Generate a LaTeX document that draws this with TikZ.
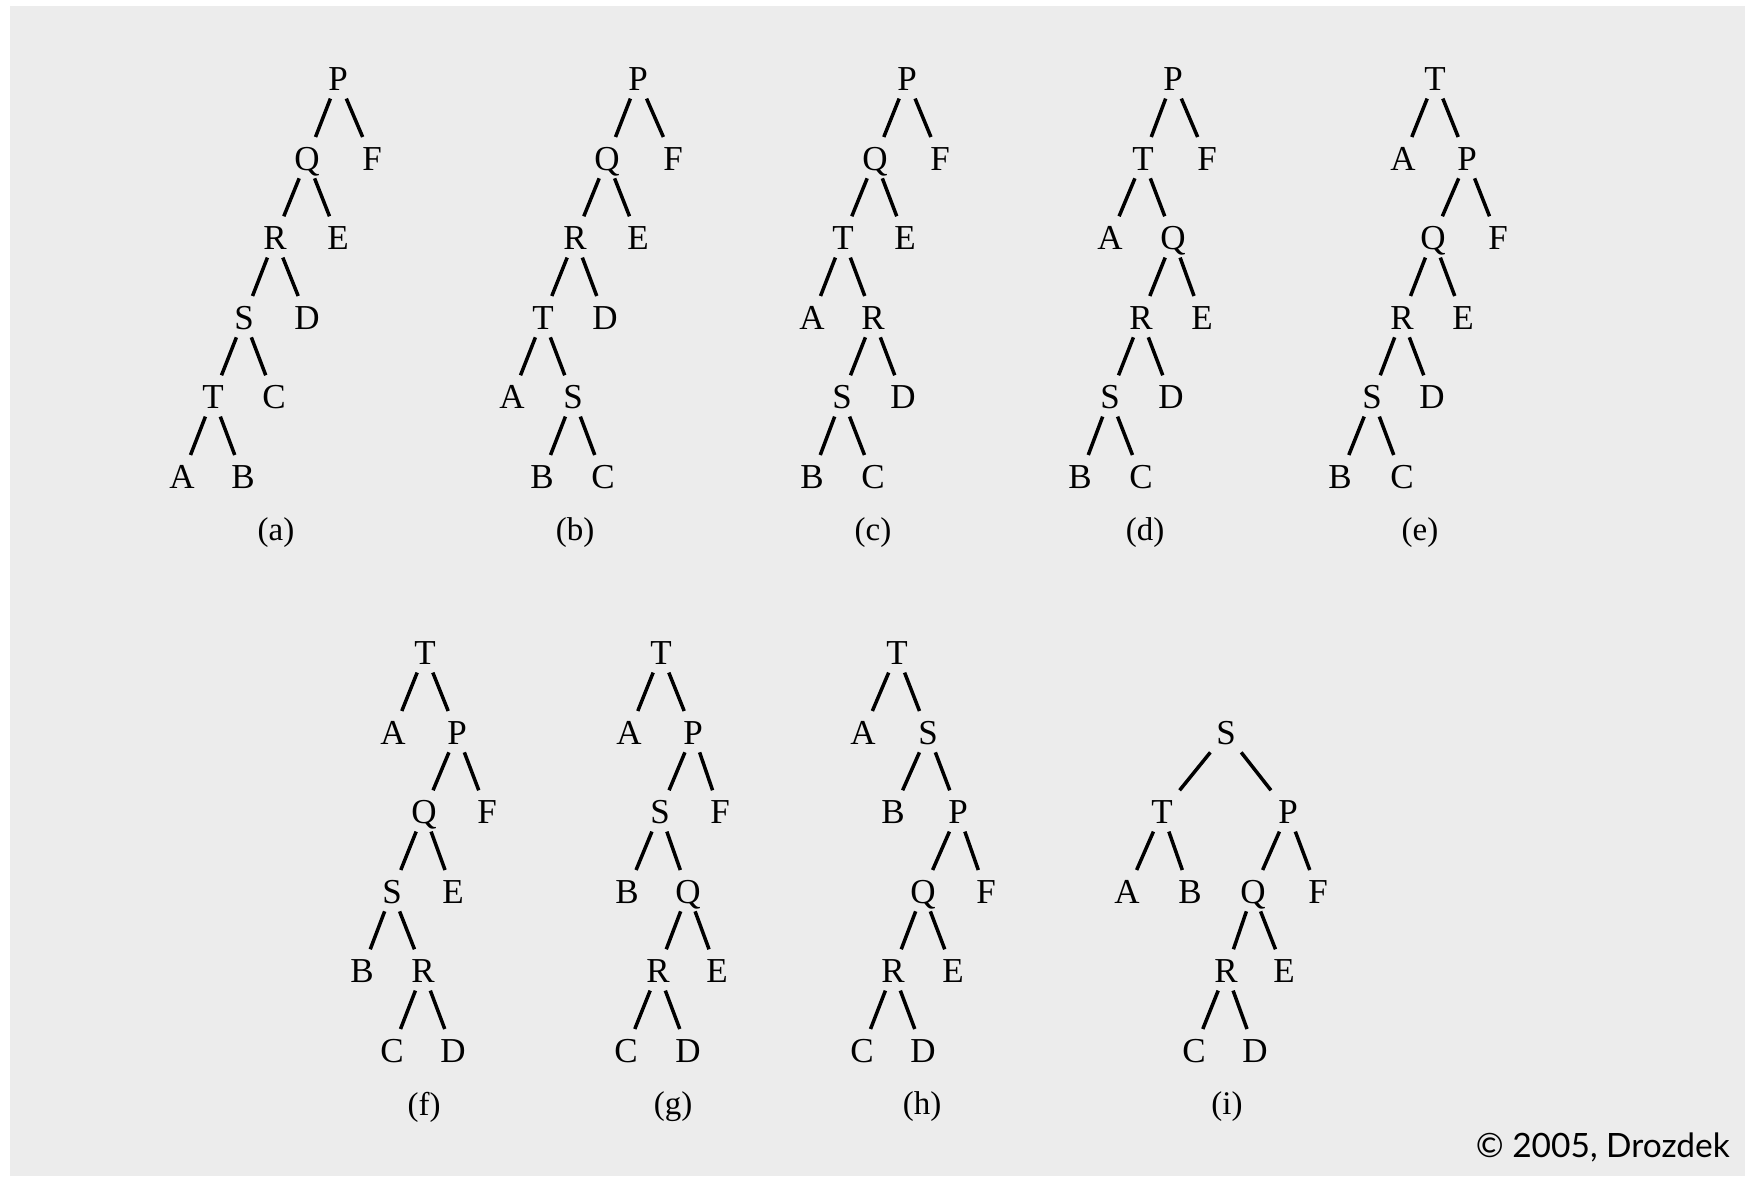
\documentclass[tikz,border=0pt]{standalone}
\usepackage{fontspec}
\setmainfont{Liberation Serif}
\newfontfamily\copyfont{Lato}
\usetikzlibrary{calc}
\definecolor{bggray}{HTML}{ECECEC}
\tikzset{
  lt/.style={inner sep=0pt, text height=23pt, text depth=0pt, font=\fontsize{35}{40}\selectfont},
  lbl/.style={inner sep=0pt, font=\fontsize{33}{40}\selectfont},
  treeline/.style={line width=3.5pt, black},
}
\newcommand{\tedge}[2]{\draw[treeline] ($(#1)!0.245!(#2)$) -- ($(#1)!0.725!(#2)$);}
\begin{document}
\begin{tikzpicture}[x=1pt,y=-1pt]
\fill[white] (0,0) rectangle (1747,1180);
\fill[bggray] (10,6) rectangle (1745,1176);
\useasboundingbox (0,0) rectangle (1747,1180);

% (a)
\node[lt] (aP) at (338,79) {P};
\node[lt] (aQ) at (307,159) {Q};
\node[lt] (aF) at (372,159) {F};
\node[lt] (aR) at (275,238) {R};
\node[lt] (aE) at (338,238) {E};
\node[lt] (aS) at (244,318) {S};
\node[lt] (aD) at (307,318) {D};
\node[lt] (aT) at (213,397) {T};
\node[lt] (aC) at (274,397) {C};
\node[lt] (aA) at (182,477) {A};
\node[lt] (aB) at (243,477) {B};
\node[lbl] (la) at (276,533) {(a)};
\tedge{aP}{aQ}\tedge{aP}{aF}\tedge{aQ}{aR}\tedge{aQ}{aE}\tedge{aR}{aS}
\tedge{aR}{aD}\tedge{aS}{aT}\tedge{aS}{aC}\tedge{aT}{aA}\tedge{aT}{aB}

% (b)
\node[lt] (bP) at (638,79) {P};
\node[lt] (bQ) at (607,159) {Q};
\node[lt] (bF) at (673,159) {F};
\node[lt] (bR) at (575,238) {R};
\node[lt] (bE) at (638,238) {E};
\node[lt] (bT) at (543,318) {T};
\node[lt] (bD) at (605,318) {D};
\node[lt] (bA) at (512,397) {A};
\node[lt] (bS) at (573,397) {S};
\node[lt] (bB) at (542,477) {B};
\node[lt] (bC) at (603,477) {C};
\node[lbl] (lb) at (575,533) {(b)};
\tedge{bP}{bQ}\tedge{bP}{bF}\tedge{bQ}{bR}\tedge{bQ}{bE}\tedge{bR}{bT}
\tedge{bR}{bD}\tedge{bT}{bA}\tedge{bT}{bS}\tedge{bS}{bB}\tedge{bS}{bC}

% (c)
\node[lt] (cP) at (907,79) {P};
\node[lt] (cQ) at (875,159) {Q};
\node[lt] (cF) at (940,159) {F};
\node[lt] (cT) at (843,238) {T};
\node[lt] (cE) at (905,238) {E};
\node[lt] (cA) at (812,318) {A};
\node[lt] (cR) at (873,318) {R};
\node[lt] (cS) at (842,397) {S};
\node[lt] (cD) at (903,397) {D};
\node[lt] (cB) at (812,477) {B};
\node[lt] (cC) at (873,477) {C};
\node[lbl] (lc) at (873,533) {(c)};
\tedge{cP}{cQ}\tedge{cP}{cF}\tedge{cQ}{cT}\tedge{cQ}{cE}\tedge{cT}{cA}
\tedge{cT}{cR}\tedge{cR}{cS}\tedge{cR}{cD}\tedge{cS}{cB}\tedge{cS}{cC}

% (d)
\node[lt] (dP) at (1173,79) {P};
\node[lt] (dT) at (1143,159) {T};
\node[lt] (dF) at (1207,159) {F};
\node[lt] (dA) at (1110,238) {A};
\node[lt] (dQ) at (1173,238) {Q};
\node[lt] (dR) at (1141,318) {R};
\node[lt] (dE) at (1202,318) {E};
\node[lt] (dS) at (1110,397) {S};
\node[lt] (dD) at (1171,397) {D};
\node[lt] (dB) at (1080,477) {B};
\node[lt] (dC) at (1141,477) {C};
\node[lbl] (ld) at (1145,533) {(d)};
\tedge{dP}{dT}\tedge{dP}{dF}\tedge{dT}{dA}\tedge{dT}{dQ}\tedge{dQ}{dR}
\tedge{dQ}{dE}\tedge{dR}{dS}\tedge{dR}{dD}\tedge{dS}{dB}\tedge{dS}{dC}

% (e)
\node[lt] (eT) at (1435,79) {T};
\node[lt] (eA) at (1403,159) {A};
\node[lt] (eP) at (1467,159) {P};
\node[lt] (eQ) at (1433,238) {Q};
\node[lt] (eF) at (1498,238) {F};
\node[lt] (eR) at (1402,318) {R};
\node[lt] (eE) at (1463,318) {E};
\node[lt] (eS) at (1372,397) {S};
\node[lt] (eD) at (1432,397) {D};
\node[lt] (eB) at (1340,477) {B};
\node[lt] (eC) at (1402,477) {C};
\node[lbl] (le) at (1420,533) {(e)};
\tedge{eT}{eA}\tedge{eT}{eP}\tedge{eP}{eQ}\tedge{eP}{eF}\tedge{eQ}{eR}
\tedge{eQ}{eE}\tedge{eR}{eS}\tedge{eR}{eD}\tedge{eS}{eB}\tedge{eS}{eC}

% (f)
\node[lt] (fT) at (425,653) {T};
\node[lt] (fA) at (393,733) {A};
\node[lt] (fP) at (457,733) {P};
\node[lt] (fQ) at (424,812) {Q};
\node[lt] (fF) at (487,812) {F};
\node[lt] (fS) at (392,892) {S};
\node[lt] (fE) at (453,892) {E};
\node[lt] (fB) at (362,971) {B};
\node[lt] (fR) at (423,971) {R};
\node[lt] (fC) at (392,1051) {C};
\node[lt] (fD) at (453,1051) {D};
\node[lbl] (lf) at (424,1107) {(f)};
\tedge{fT}{fA}\tedge{fT}{fP}\tedge{fP}{fQ}\tedge{fP}{fF}\tedge{fQ}{fS}
\tedge{fQ}{fE}\tedge{fS}{fB}\tedge{fS}{fR}\tedge{fR}{fC}\tedge{fR}{fD}

% (g)
\node[lt] (gT) at (661,653) {T};
\node[lt] (gA) at (629,733) {A};
\node[lt] (gP) at (693,733) {P};
\node[lt] (gS) at (660,812) {S};
\node[lt] (gF) at (720,812) {F};
\node[lt] (gB) at (627,892) {B};
\node[lt] (gQ) at (688,892) {Q};
\node[lt] (gR) at (658,971) {R};
\node[lt] (gE) at (717,971) {E};
\node[lt] (gC) at (626,1051) {C};
\node[lt] (gD) at (688,1051) {D};
\node[lbl] (lg) at (673,1107) {(g)};
\tedge{gT}{gA}\tedge{gT}{gP}\tedge{gP}{gS}\tedge{gP}{gF}\tedge{gS}{gB}
\tedge{gS}{gQ}\tedge{gQ}{gR}\tedge{gQ}{gE}\tedge{gR}{gC}\tedge{gR}{gD}

% (h)
\node[lt] (hT) at (897,653) {T};
\node[lt] (hA) at (863,733) {A};
\node[lt] (hS) at (928,733) {S};
\node[lt] (hB) at (893,812) {B};
\node[lt] (hP) at (958,812) {P};
\node[lt] (hQ) at (923,892) {Q};
\node[lt] (hF) at (986,892) {F};
\node[lt] (hR) at (893,971) {R};
\node[lt] (hE) at (953,971) {E};
\node[lt] (hC) at (862,1051) {C};
\node[lt] (hD) at (923,1051) {D};
\node[lbl] (lh) at (922,1107) {(h)};
\tedge{hT}{hA}\tedge{hT}{hS}\tedge{hS}{hB}\tedge{hS}{hP}\tedge{hP}{hQ}
\tedge{hP}{hF}\tedge{hQ}{hR}\tedge{hQ}{hE}\tedge{hR}{hC}\tedge{hR}{hD}

% (i)
\node[lt] (iS) at (1226,733) {S};
\node[lt] (iT) at (1162,812) {T};
\node[lt] (iP) at (1288,812) {P};
\node[lt] (iA) at (1127,892) {A};
\node[lt] (iB) at (1190,892) {B};
\node[lt] (iQ) at (1253,892) {Q};
\node[lt] (iF) at (1318,892) {F};
\node[lt] (iR) at (1226,971) {R};
\node[lt] (iE) at (1284,971) {E};
\node[lt] (iC) at (1194,1051) {C};
\node[lt] (iD) at (1255,1051) {D};
\node[lbl] (li) at (1227,1107) {(i)};
\tedge{iS}{iT}\tedge{iS}{iP}\tedge{iT}{iA}\tedge{iT}{iB}\tedge{iP}{iQ}
\tedge{iP}{iF}\tedge{iQ}{iR}\tedge{iQ}{iE}\tedge{iR}{iC}\tedge{iR}{iD}

\node[anchor=base east, inner sep=0pt, font=\copyfont\fontsize{33.5}{38}\selectfont] (copy) at (1730,1157) {© 2005, Drozdek};
\end{tikzpicture}
\end{document}
